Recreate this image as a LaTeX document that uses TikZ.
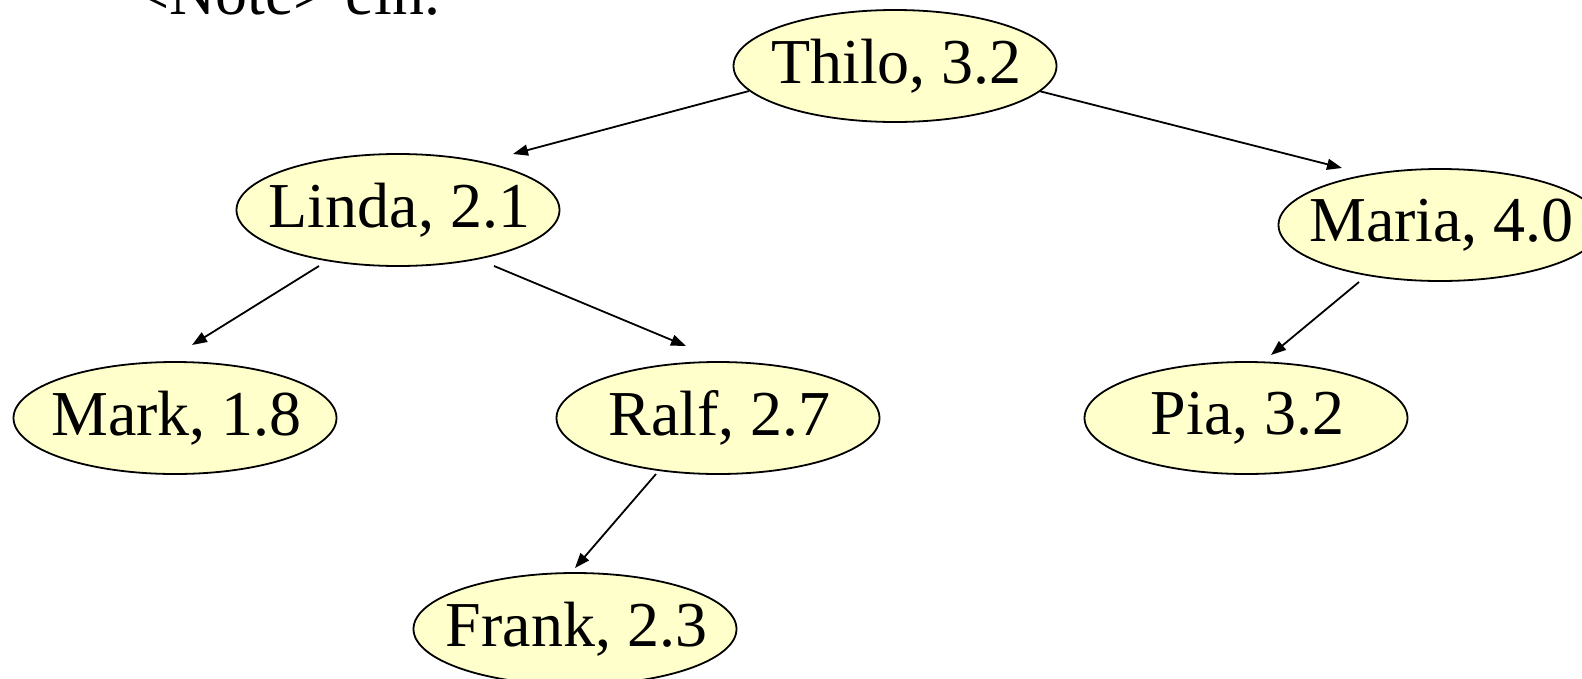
\documentclass[tikz,border=0pt]{standalone}
\usepackage{fontspec}
\setmainfont{Liberation Serif}
\usetikzlibrary{shapes.geometric,arrows.meta}
\definecolor{nodefill}{HTML}{FFFFCC}
\tikzset{
  treenode/.style={ellipse, draw=black, line width=1.8pt, fill=nodefill,
    minimum width=323pt, minimum height=112pt, inner sep=0pt,
    font=\fontsize{64}{70}\selectfont},
  edge/.style={line width=1.8pt, -{Triangle[length=15pt,width=11pt]}}
}
% centred label that does not widen the ellipse
\newcommand{\tlabel}[1]{\hspace*{3pt}\raisebox{-4pt}{\makebox[0pt]{#1}}}
\begin{document}
\begin{tikzpicture}[x=1pt,y=-1pt]
\useasboundingbox (0,0) rectangle (1582,678);
\clip (0,0) rectangle (1582,678);
\fill[white] (0,0) rectangle (1582,678);

\node[anchor=base west, font=\fontsize{64}{70}\selectfont, inner sep=0pt] (note) at (133,14) {<Note> ein.};

\node[treenode] (thilo) at (895,66) {\tlabel{Thilo, 3.2}};
\node[treenode] (linda) at (398,210) {\tlabel{Linda, 2.1}};
\node[treenode] (maria) at (1440,225) {\tlabel{Maria, 4.0}};
\node[treenode] (mark) at (175,418) {\tlabel{Mark, 1.8}};
\node[treenode] (ralf) at (718,418) {\tlabel{Ralf, 2.7}};
\node[treenode] (pia) at (1246,418) {\tlabel{Pia, 3.2}};
\node[treenode] (frank) at (575,629) {\tlabel{Frank, 2.3}};

% arrow start and end points near the ellipses
\coordinate (tl1) at (749,91);   \coordinate (tl2) at (513,154);
\coordinate (tm1) at (1039,91);  \coordinate (tm2) at (1342,168);
\coordinate (lk1) at (319,266);  \coordinate (lk2) at (192,345);
\coordinate (lr1) at (494,266);  \coordinate (lr2) at (686,346);
\coordinate (rf1) at (656,474);  \coordinate (rf2) at (575,568);
\coordinate (mp1) at (1359,282); \coordinate (mp2) at (1271,355);

\draw[edge] (tl1) -- (tl2);
\draw[edge] (tm1) -- (tm2);
\draw[edge] (lk1) -- (lk2);
\draw[edge] (lr1) -- (lr2);
\draw[edge] (rf1) -- (rf2);
\draw[edge] (mp1) -- (mp2);
\end{tikzpicture}
\end{document}
